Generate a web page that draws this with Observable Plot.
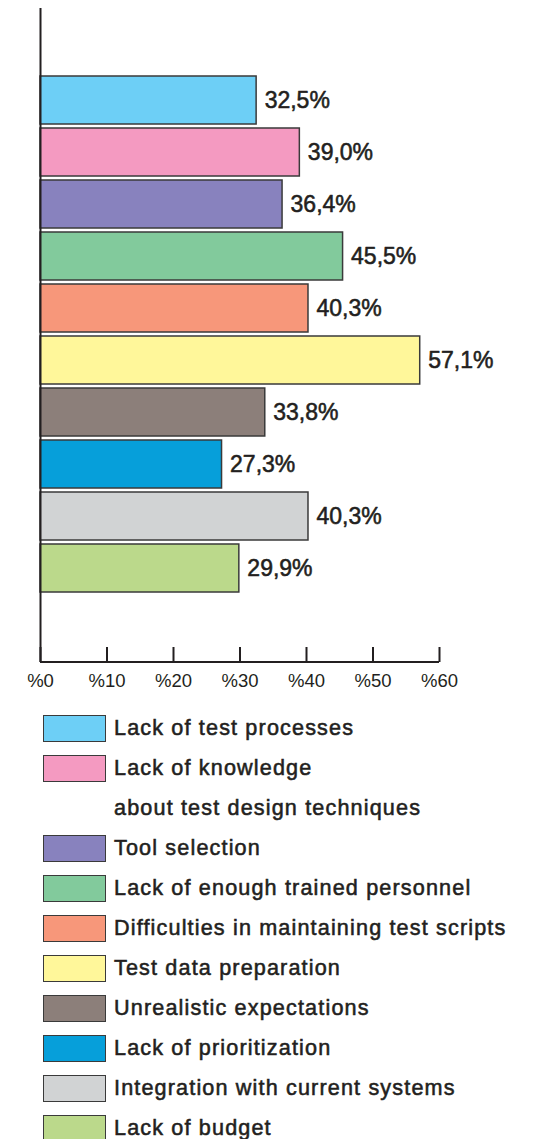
<!DOCTYPE html>
<html>
<head>
<meta charset="utf-8">
<script src="https://cdn.jsdelivr.net/npm/d3@7"></script>
<script src="https://cdn.jsdelivr.net/npm/@observablehq/plot@0.6"></script>
<style>
  html, body { margin: 0; padding: 0; background: #fff; }
  body { width: 535px; height: 1139px; position: relative; overflow: hidden;
         font-family: "Liberation Sans", Arial, sans-serif; color: #231f20; }
  #chart svg { display: block; }
  #legend { position: absolute; left: 0; top: 708px; width: 535px; }
  .row { height: 40px; display: flex; align-items: center; }
  .sw { box-sizing: border-box; width: 63px; height: 27px; margin-left: 43px; margin-right: 8px;
        border: 1.5px solid #3a3a3a; }
  .sw.blank { border: none; }
  .lbl { font-size: 21.6px; letter-spacing: 1.15px; -webkit-text-stroke: 0.55px #231f20; white-space: nowrap; }
</style>
</head>
<body>
<div id="chart"></div>
<div id="legend"></div>
<script>
// ---- data ----
const categories = [
  "Lack of test processes",
  "Lack of knowledge about test design techniques",
  "Tool selection",
  "Lack of enough trained personnel",
  "Difficulties in maintaining test scripts",
  "Test data preparation",
  "Unrealistic expectations",
  "Lack of prioritization",
  "Integration with current systems",
  "Lack of budget"
];
const values = [32.5, 39.0, 36.4, 45.5, 40.3, 57.1, 33.8, 27.3, 40.3, 29.9];
const colors = ["#6dcff6", "#f49ac1", "#8882be", "#82ca9c", "#f7977a",
                "#fff79a", "#8c7f7a", "#069fda", "#d1d3d4", "#bbd98b"];
const xTicks = [0, 10, 20, 30, 40, 50, 60];
const legendLines = [
  ["Lack of test processes", 0],
  ["Lack of knowledge", 1],
  ["about test design techniques", -1],
  ["Tool selection", 2],
  ["Lack of enough trained personnel", 3],
  ["Difficulties in maintaining test scripts", 4],
  ["Test data preparation", 5],
  ["Unrealistic expectations", 6],
  ["Lack of prioritization", 7],
  ["Integration with current systems", 8],
  ["Lack of budget", 9]
];

const data = categories.map((c, i) => ({cat: c, value: values[i]}));
const fmt = v => v.toFixed(1).replace(".", ",") + "%";

const W = 535, H = 700, mT = 8, mB = 38;
const frameH = H - mT - mB;
const ink = "#231f20";

const chart = Plot.plot({
  width: W, height: H,
  marginLeft: 40, marginRight: 96, marginTop: mT, marginBottom: mB,
  style: {fontFamily: "'Liberation Sans', Arial, sans-serif", color: ink, background: "#fff"},
  x: {domain: [0, 60], axis: null},
  y: {domain: categories, range: [74, 594], paddingInner: 0.084, paddingOuter: 0, axis: null},
  color: {domain: categories, range: colors},
  marks: [
    Plot.barX(data, {x: "value", y: "cat", fill: "cat", stroke: "#3a3a3a", strokeWidth: 1.5}),
    Plot.text(data, {x: "value", y: "cat", text: d => fmt(d.value), dx: 8, textAnchor: "start",
      fontSize: 23, fill: ink, letterSpacing: 1.1, stroke: ink, strokeWidth: 0.55}),
    Plot.ruleX([0], {stroke: ink, strokeWidth: 2}),
    Plot.ruleX(xTicks, {x: d => d, stroke: ink, strokeWidth: 2, insetTop: frameH - 15}),
    Plot.rect([0], {x1: 0, x2: 60, fill: ink, insetTop: frameH - 1, insetBottom: -1}),
    Plot.axisX(xTicks, {tickSize: 0, tickPadding: 11, tickFormat: d => "%" + d, fontSize: 18.5,
      fill: ink, label: null, stroke: ink, strokeWidth: 0.5})
  ]
});
document.getElementById("chart").appendChild(chart);

const legend = document.getElementById("legend");
for (const [text, idx] of legendLines) {
  const row = document.createElement("div");
  row.className = "row";
  const sw = document.createElement("div");
  sw.className = "sw" + (idx < 0 ? " blank" : "");
  if (idx >= 0) sw.style.background = colors[idx];
  const lbl = document.createElement("span");
  lbl.className = "lbl";
  lbl.textContent = text;
  row.appendChild(sw);
  row.appendChild(lbl);
  legend.appendChild(row);
}
</script>
</body>
</html>
